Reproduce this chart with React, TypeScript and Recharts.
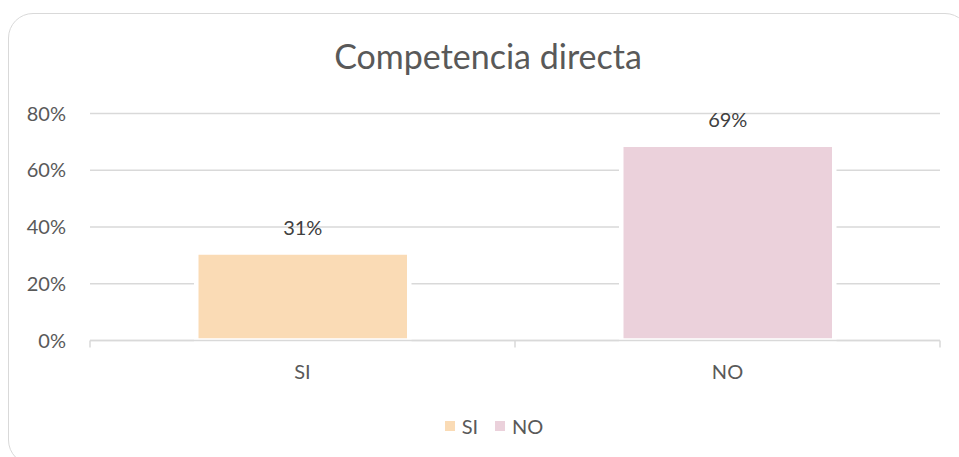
import React from 'react';
import { BarChart, Bar, XAxis, YAxis, CartesianGrid, Cell, LabelList } from 'recharts';

const categories = ['SI', 'NO'];
const values = [0.31, 0.69];
const colors = ['#FADBB5', '#EBD1DB'];
const yTicks = [0, 0.2, 0.4, 0.6, 0.8];

const chartData = categories.map((name, i) => ({ name, value: values[i] }));

const FONT = 'Lato, "Open Sans", sans-serif';
const TEXT = '#595959';
const LINE = '#D9D9D9';
const TICK_MARGIN = 24;

const pct = (v: any) => `${Math.round(Number(v) * 100)}%`;

// category label + the boundary tick marks Excel draws between categories
const CategoryTick = (props: any) => {
  const { x, y, payload, index, visibleTicksCount } = props;
  const off = payload.offset || 0;
  const axisY = y - TICK_MARGIN;
  const isLast = index === visibleTicksCount - 1;
  return (
    <g>
      <line x1={x - off} x2={x - off} y1={axisY} y2={axisY + 7} stroke={LINE} strokeWidth={1.5} />
      {isLast && <line x1={x + off} x2={x + off} y1={axisY} y2={axisY + 7} stroke={LINE} strokeWidth={1.5} />}
      <text x={x} y={axisY + 38.5} textAnchor="middle" fill={TEXT} fontSize={20} fontFamily={FONT}>
        {payload.value}
      </text>
    </g>
  );
};

export default function App() {
  return (
    <div style={{ position: 'absolute', left: 0, top: 0, width: 959, height: 457, overflow: 'hidden', background: '#fff' }}>
      <div
        style={{
          position: 'absolute', left: 8, top: 13, width: 962, height: 452,
          border: `1.5px solid ${LINE}`, borderRadius: 25, boxSizing: 'border-box',
        }}
      />
      <svg width={959} height={100} style={{ position: 'absolute', left: 0, top: 0 }}>
        <text x={488} y={68.5} textAnchor="middle" fill={TEXT} fontSize={34} fontFamily={FONT}>
          Competencia directa
        </text>
      </svg>
      <div style={{ position: 'absolute', left: 0, top: 0 }}>
        <BarChart
          width={959}
          height={457}
          data={chartData}
          margin={{ top: 113.5, right: 19, left: 0, bottom: 76.5 }}
          barCategoryGap="25%"
        >
          <CartesianGrid vertical={false} stroke={LINE} strokeWidth={1.3} />
          <YAxis
            width={90}
            domain={[0, 0.8]}
            ticks={yTicks}
            tickFormatter={pct}
            axisLine={false}
            tickLine={false}
            tickSize={0}
            tickMargin={24}
            tick={{ fontSize: 20, fill: TEXT, fontFamily: FONT }}
          />
          <Bar dataKey="value" stroke="#fff" strokeWidth={4.5} isAnimationActive={false}>
            {chartData.map((d, i) => (
              <Cell key={d.name} fill={colors[i]} />
            ))}
            <LabelList
              dataKey="value"
              position="top"
              offset={18}
              formatter={pct}
              fill="#404040"
              fontSize={20}
              fontFamily={FONT}
            />
          </Bar>
          <XAxis
            dataKey="name"
            height={40}
            axisLine={{ stroke: LINE, strokeWidth: 1.5 }}
            tickLine={false}
            tickSize={0}
            tickMargin={TICK_MARGIN}
            tick={<CategoryTick />}
          />
        </BarChart>
      </div>
      <div
        style={{
          position: 'absolute', top: 414, left: 0, width: 959, display: 'flex',
          justifyContent: 'center', paddingLeft: 29, boxSizing: 'border-box',
          fontFamily: FONT, fontSize: 20, color: TEXT, lineHeight: '24px',
        }}
      >
        {categories.map((c, i) => (
          <div key={c} style={{ display: 'flex', alignItems: 'center', marginRight: i < categories.length - 1 ? 17 : 0 }}>
            <span style={{ width: 10, height: 10, background: colors[i], marginRight: 7, display: 'inline-block' }} />
            <span>{c}</span>
          </div>
        ))}
      </div>
    </div>
  );
}
